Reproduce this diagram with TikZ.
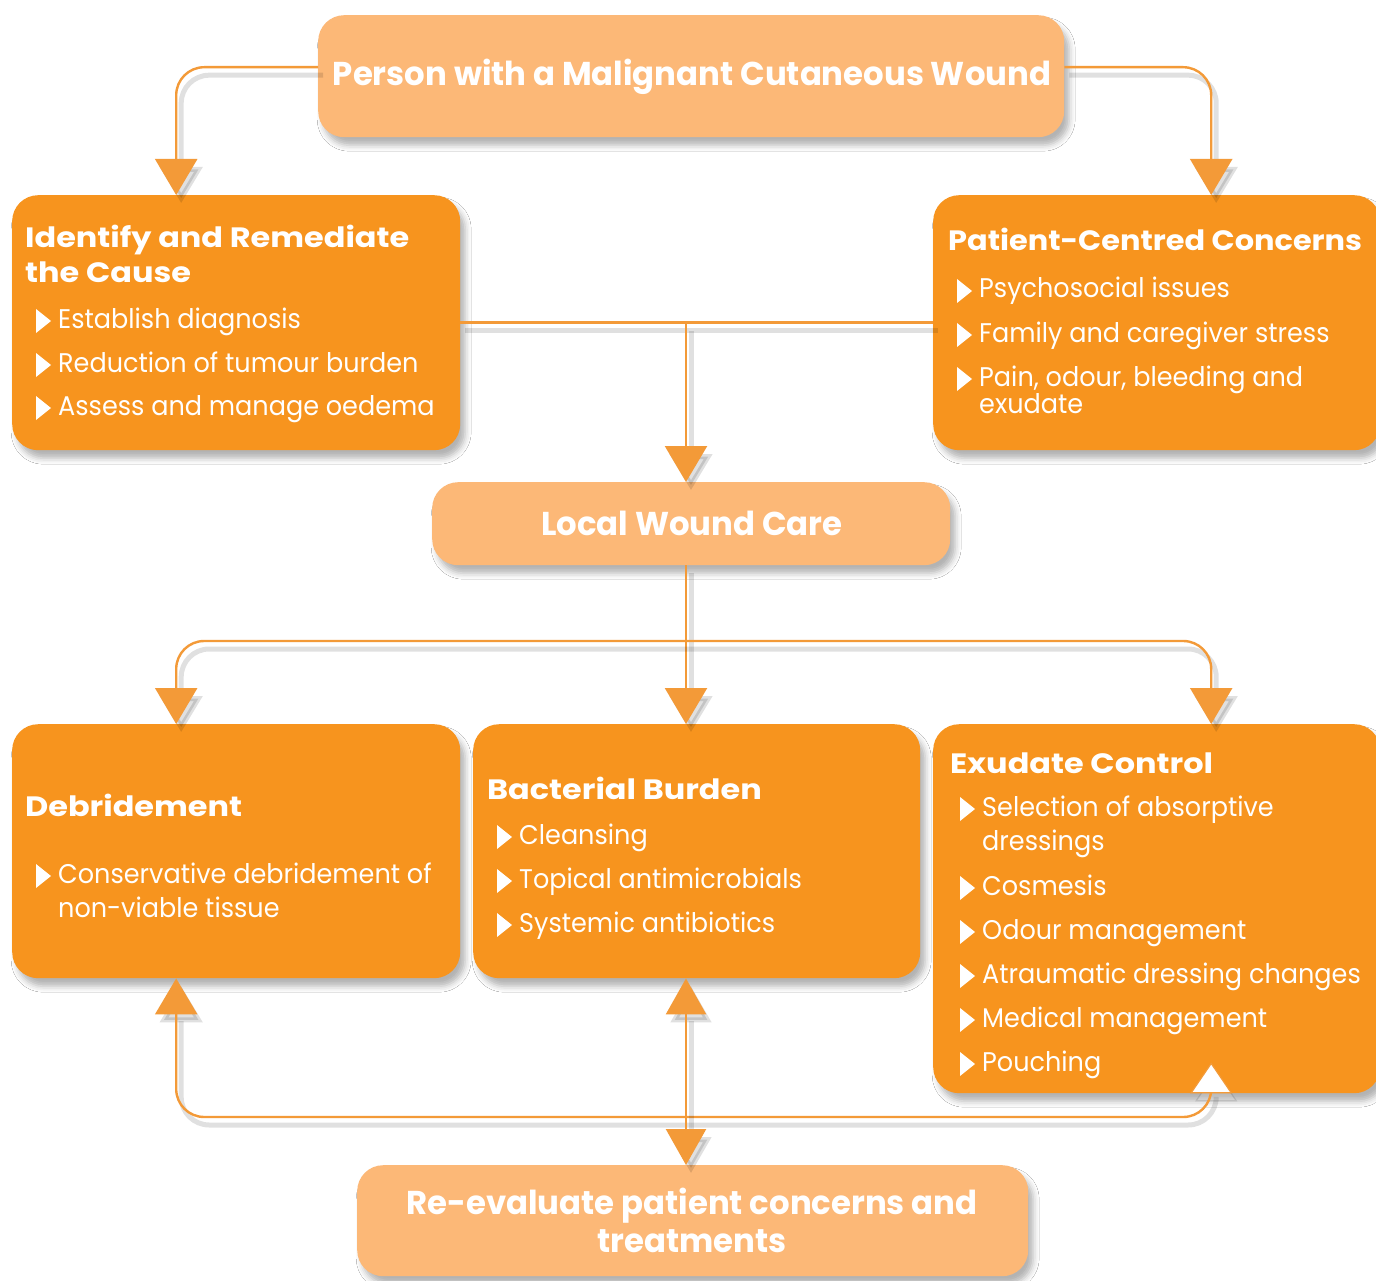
\documentclass[tikz,border=0pt]{standalone}
\usepackage{fontspec}
\setmainfont{Poppins}[FakeStretch=0.945]
\newfontfamily\ttlfont{Poppins}[FakeStretch=1.14]
\newfontfamily\ttlfontb{Poppins}[FakeStretch=1.085]
\newfontfamily\bigfont{Poppins}[FakeStretch=0.98]
\usetikzlibrary{arrows.meta,calc,shadows.blur}
\definecolor{dorange}{HTML}{F7941E}
\definecolor{lorange}{HTML}{FCB877}
\definecolor{lineor}{HTML}{F39A38}
\begin{document}
\begin{tikzpicture}[x=1pt,y=-1pt,
  box/.style={rounded corners=26pt, inner sep=0pt, anchor=north west,
    blur shadow={shadow xshift=5pt, shadow yshift=-8pt, shadow opacity=30, shadow blur radius=6pt}},
  dbox/.style={box, fill=dorange},
  lbox/.style={box, fill=lorange},
  ttl/.style={text=white, inner sep=0pt, anchor=base west, font=\ttlfont\bfseries\fontsize{28}{34}\selectfont},
  ttlb/.style={ttl, font=\ttlfontb\bfseries\fontsize{28}{34}\selectfont},
  bigttl/.style={text=white, inner sep=0pt, anchor=base, font=\bigfont\bfseries\fontsize{33}{38}\selectfont},
  itm/.style={text=white, inner sep=0pt, anchor=base west, font=\fontsize{27}{34}\selectfont},
  bullet/.style={fill=white},
  lnk/.style={draw=lineor, line width=2.4pt, rounded corners=28pt,
    preaction={draw=black, opacity=0.12, line width=5pt, transform canvas={shift={(5pt,-8pt)}}}},
  arr/.style={lnk, -{Triangle[width=42pt,length=36pt]}},
  warr/.style={lnk, -{Triangle[width=42pt,length=31pt,fill=white,line width=1.2pt]}},
  barr/.style={lnk, {Triangle[width=40pt,length=36pt]}-{Triangle[width=40pt,length=36pt]}},
]
\clip (0,0) rectangle (1376,1281);
\fill[white] (0,0) rectangle (1376,1281);

% boxes
\node[lbox, minimum width=746pt, minimum height=122pt] (person) at (318,15) {};
\node[dbox, minimum width=448pt, minimum height=255pt] (ident) at (12,195) {};
\node[dbox, minimum width=447pt, minimum height=255pt] (patient) at (933,195) {};
\node[lbox, minimum width=518pt, minimum height=83pt] (local) at (432,482) {};
\node[dbox, minimum width=448pt, minimum height=254pt] (debr) at (12,724) {};
\node[dbox, minimum width=447pt, minimum height=254pt] (bact) at (473,724) {};
\node[dbox, minimum width=447pt, minimum height=369pt] (exud) at (933,724) {};
\node[lbox, minimum width=671pt, minimum height=111pt] (reeval) at (357,1165) {};

% junctions
\coordinate (j1) at (686,321);
\coordinate (j2) at (686,641);
\coordinate (j3) at (686,1117);

% connectors
\draw[arr] ([yshift=9pt]person.west) -| ([xshift=-60pt]ident.north);
\draw[arr] ([yshift=9pt]person.east) -| ([xshift=54.5pt]patient.north);
\draw[lnk] (ident.east) -- (patient.west);
\draw[arr] (ident.east -| j1) -- (local.north -| j1);
\draw[arr] (local.south -| j2) -- (bact.north -| j2);
\draw[arr] (j2) -| ([xshift=-60pt]debr.north);
\draw[arr] (j2) -| ([xshift=54.5pt]exud.north);
\draw[arr] (j3) -| ([xshift=-60pt]debr.south);
\draw[warr] (j3) -| ([xshift=54.5pt,yshift=31pt]exud.south);
\draw[barr] (bact.south -| j3) -- (reeval.north -| j3);

% titles
\node[bigttl] (tperson) at (692,86) {Person with a Malignant Cutaneous Wound};
\node[ttl] (tident1) at (25,248) {Identify and Remediate};
\node[ttl] (tident2) at (25,283) {the Cause};
\node[ttlb] (tpatient) at (948,251) {Patient-Centred Concerns};
\node[bigttl] (tlocal) at (692,535) {Local Wound Care};
\node[ttl] (tdebr) at (25,816) {Debridement};
\node[ttl] (tbact) at (487,799) {Bacterial Burden};
\node[ttl] (texud) at (950,773) {Exudate Control};
\node[bigttl] (treeval1) at (692,1214) {Re-evaluate patient concerns and};
\node[bigttl] (treeval2) at (692,1252) {treatments};

% items
\node[itm] (a1) at (58,328) {Establish diagnosis};
\node[itm] (a2) at (58,372) {Reduction of tumour burden};
\node[itm] (a3) at (58,415) {Assess and manage oedema};
\node[itm] (b1) at (979,298) {Psychosocial issues};
\node[itm] (b2) at (979,342) {Family and caregiver stress};
\node[itm] (b3) at (979,386) {Pain, odour, bleeding and};
\node[itm] (b3c) at (979,413) {exudate};
\node[itm] (c1) at (58,883) {Conservative debridement of};
\node[itm] (c1c) at (58,917) {non-viable tissue};
\node[itm] (d1) at (519,844) {Cleansing};
\node[itm] (d2) at (519,888) {Topical antimicrobials};
\node[itm] (d3) at (519,932) {Systemic antibiotics};
\node[itm] (e1) at (982,816) {Selection of absorptive};
\node[itm] (e1c) at (982,850) {dressings};
\node[itm] (e2) at (982,895) {Cosmesis};
\node[itm] (e3) at (982,939) {Odour management};
\node[itm] (e4) at (982,983) {Atraumatic dressing changes};
\node[itm] (e5) at (982,1027) {Medical management};
\node[itm] (e6) at (982,1071) {Pouching};

\foreach \n in {a1,a2,a3,b1,b2,b3,c1,d1,d2,d3,e1,e2,e3,e4,e5,e6}
  \fill[bullet] ($(\n.base west)+(-22,-19)$) -- ++(0,24) -- ++(15,-12) -- cycle;
\end{tikzpicture}
\end{document}
